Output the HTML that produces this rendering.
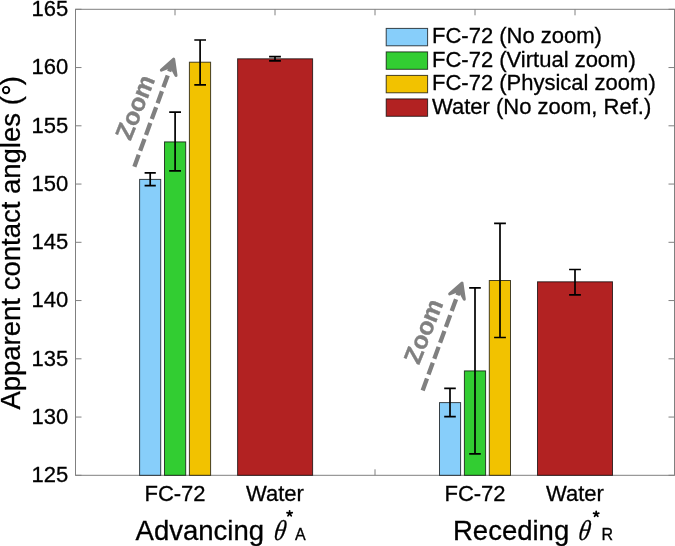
<!DOCTYPE html>
<html><head><meta charset="utf-8">
<style>
html,body{margin:0;padding:0;background:#fff;}
body{width:675px;height:546px;overflow:hidden;}
svg{display:block;will-change:transform;}
text{font-family:"Liberation Sans",sans-serif;fill:#000;stroke:#000;stroke-width:0.3px;}
.t{font-size:22px;}
.s{font-family:"Liberation Serif",serif;font-style:italic;}
</style></head><body>
<svg width="675" height="546" viewBox="0 0 675 546">
<rect x="0" y="0" width="675" height="546" fill="#fff"/>
<!-- axes -->
<g stroke="#808080" stroke-width="1" fill="none">
<rect x="75.5" y="9.3" width="599" height="466"/>
<path d="M75.5 475.3h6M75.5 417.05h6M75.5 358.8h6M75.5 300.55h6M75.5 242.3h6M75.5 184.05h6M75.5 125.8h6M75.5 67.55h6M75.5 9.3h6"/>
<path d="M674.5 475.3h-6M674.5 417.05h-6M674.5 358.8h-6M674.5 300.55h-6M674.5 242.3h-6M674.5 184.05h-6M674.5 125.8h-6M674.5 67.55h-6M674.5 9.3h-6"/>
<path d="M175 475.3v-6M275 475.3v-6M375 475.3v-6M475 475.3v-6M575 475.3v-6"/>
<path d="M175 9.3v6M275 9.3v6M375 9.3v6M475 9.3v6M575 9.3v6"/>
</g>
<!-- bars group 1 -->
<g stroke="#000" stroke-width="1" stroke-opacity="0.72">
<rect x="139.6" y="179.4" width="21.1" height="295.9" fill="#87CEFA"/>
<rect x="164.5" y="141.9" width="21.2" height="333.4" fill="#32CD32"/>
<rect x="189.4" y="62.2" width="21.2" height="413.1" fill="#F2C200"/>
<rect x="237.6" y="58.8" width="75" height="416.5" fill="#B22222"/>
<rect x="439.5" y="402.6" width="21.1" height="72.7" fill="#87CEFA"/>
<rect x="464.4" y="370.9" width="21.2" height="104.4" fill="#32CD32"/>
<rect x="489.3" y="280.5" width="21.2" height="194.8" fill="#F2C200"/>
<rect x="537.5" y="281.8" width="75" height="193.5" fill="#B22222"/>
</g>
<!-- error bars -->
<g stroke="#000" stroke-width="1.7" fill="none">
<path d="M150.2 172.9V185.6M144.6 172.9H155.8M144.6 185.6H155.8"/>
<path d="M175.1 112.1V170.9M169.2 112.1H181M169.2 170.9H181"/>
<path d="M200.1 40V84.8M194.3 40H206M194.3 84.8H206"/>
<path d="M275 56.7V60.9M269.1 56.7H280.9M269.1 60.9H280.9"/>
<path d="M450 388.3V416.6M444.2 388.3H455.8M444.2 416.6H455.8"/>
<path d="M475 287.9V453.9M469.2 287.9H480.8M469.2 453.9H480.8"/>
<path d="M500 223.3V337.5M494.1 223.3H505.9M494.1 337.5H505.9"/>
<path d="M575 269.5V294.8M569.1 269.5H580.9M569.1 294.8H580.9"/>
</g>
<!-- y tick labels -->
<g class="t" text-anchor="end">
<text x="68.3" y="482.00">125</text>
<text x="68.3" y="423.75">130</text>
<text x="68.3" y="365.50">135</text>
<text x="68.3" y="307.25">140</text>
<text x="68.3" y="249.00">145</text>
<text x="68.3" y="190.75">150</text>
<text x="68.3" y="132.50">155</text>
<text x="68.3" y="74.25">160</text>
<text x="68.3" y="16.00">165</text>
</g>
<!-- x tick labels -->
<g class="t" text-anchor="middle">
<text x="175" y="500.7">FC-72</text>
<text x="275" y="500.7">Water</text>
<text x="475" y="500.7">FC-72</text>
<text x="575" y="500.7">Water</text>
</g>
<!-- axis labels -->
<text x="0" y="0" transform="translate(19.8 409.6) rotate(-90)" style="font-size:27.5px">Apparent contact angles (<tspan style="fill:none;stroke:none">°</tspan>)</text>
<circle cx="6.1" cy="90.1" r="3.2" fill="none" stroke="#000" stroke-width="1.9"/>
<text x="135.6" y="539.6" style="font-size:27.5px">Advancing</text>
<text transform="translate(272.9 539.8) skewX(-9) scale(0.83 1)" class="s" style="font-size:28.8px">θ</text>
<path id="ast" stroke="#000" stroke-width="1.75" stroke-linecap="round" stroke-linejoin="round" fill="none" d="M289.6 513.5l0.00 -2.75M289.6 513.5l2.62 -0.85M289.6 513.5l1.62 2.22M289.6 513.5l-1.62 2.22M289.6 513.5l-2.62 -0.85"/>
<text x="295" y="539.6" style="font-size:16px">A</text>
<text x="453" y="539.6" style="font-size:27.5px">Receding</text>
<text transform="translate(577.5 539.8) skewX(-9) scale(0.83 1)" class="s" style="font-size:28.8px">θ</text>
<use href="#ast" transform="translate(306.6 0.5)"/>
<text x="601.5" y="539.6" style="font-size:16px">R</text>
<!-- legend -->
<g stroke="#000" stroke-width="1" stroke-opacity="0.72">
<rect x="386.2" y="28.4" width="41.4" height="17.4" fill="#87CEFA"/>
<rect x="386.2" y="51.9" width="41.4" height="17.4" fill="#32CD32"/>
<rect x="386.2" y="75.4" width="41.4" height="17.4" fill="#F2C200"/>
<rect x="386.2" y="98.9" width="41.4" height="17.4" fill="#B22222"/>
</g>
<g class="t">
<text x="432" y="43.1">FC-72 (No zoom)</text>
<text x="432" y="66.7">FC-72 (Virtual zoom)</text>
<text x="432" y="90.3">FC-72 (Physical zoom)</text>
<text x="432" y="113.9">Water (No zoom, Ref.)</text>
</g>
<!-- zoom arrows -->
<g id="z1">
<g transform="translate(174.2 57.8) rotate(20.1)" stroke="#808080" fill="#808080">
<path d="M0 115.9V4" stroke-width="4.3" stroke-dasharray="12.6 4.3" fill="none"/>
<path d="M-7.8 16L0 1.5L7.8 16L0 9Z" stroke-width="3" stroke-linejoin="round" stroke-linecap="round"/>
</g>
<text transform="translate(130.6 141.6) rotate(-68.3)" style="font-size:24.7px;font-weight:bold;fill:#808080;stroke:#808080;stroke-width:0.35;letter-spacing:-0.1px">Zoom</text>
</g>
<use href="#z1" transform="translate(288.3 223.8)"/>
</svg>
</body></html>
